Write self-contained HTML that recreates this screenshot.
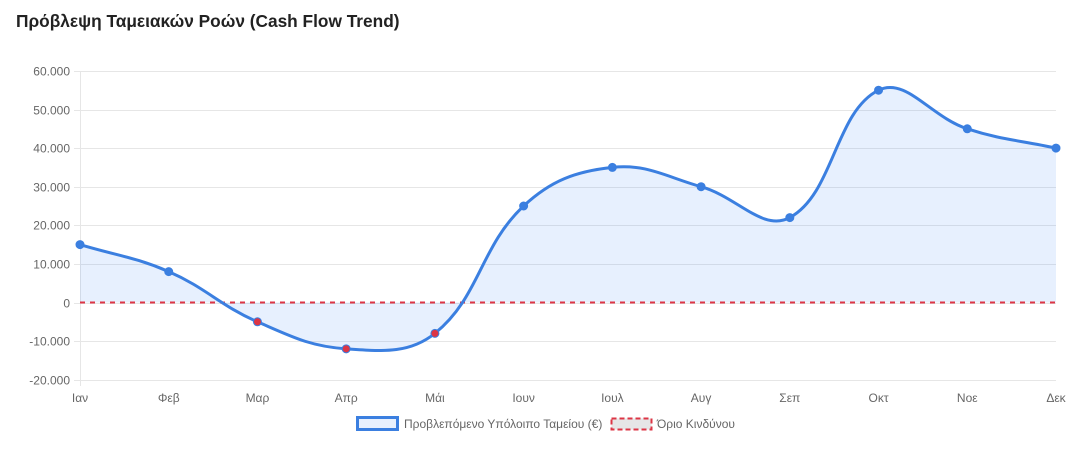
<!DOCTYPE html>
<html><head><meta charset="utf-8"><style>
body{margin:0;background:#fff;width:1092px;height:448px;overflow:hidden;font-family:"Liberation Sans",sans-serif}
</style></head><body>
<svg id="s" width="1092" height="448" xmlns="http://www.w3.org/2000/svg" font-family="Liberation Sans, sans-serif">
<text x="16" y="27" font-size="17.3" font-weight="bold" fill="#222">Πρόβλεψη Ταμειακών Ροών (Cash Flow Trend)</text>
<g id="grid"></g>
<path id="fill" fill="rgba(59,130,246,0.12)" stroke="none"/>
<line x1="80" x2="1056" y1="302.5" y2="302.5" stroke="#dc3545" stroke-width="2" stroke-dasharray="5,5"/>
<path id="line" fill="none" stroke="#3b7fe0" stroke-width="3"/>
<g id="pts"></g>
<rect x="357.5" y="417.5" width="40" height="12" fill="#e8f0fd" stroke="#3b7fe0" stroke-width="3"/>
<text x="404" y="428" font-size="12" fill="#666">Προβλεπόμενο Υπόλοιπο Ταμείου (€)</text>
<rect x="611.5" y="418.5" width="40" height="11" fill="#e6e6e6" stroke="#dc3545" stroke-width="2" stroke-dasharray="5,3"/>
<text x="657" y="428" font-size="12" fill="#666">Όριο Κινδύνου</text>
</svg>
<script>
var ns="http://www.w3.org/2000/svg";
function el(t,a,p){var e=document.createElementNS(ns,t);for(var k in a)e.setAttribute(k,a[k]);if(p)document.getElementById(p).appendChild(e);return e;}
function Y(v){return 302.5-v*38.6/10000;}
var labs=["Ιαν","Φεβ","Μαρ","Απρ","Μάι","Ιουν","Ιουλ","Αυγ","Σεπ","Οκτ","Νοε","Δεκ"];
var data=[15000,8000,-5000,-12000,-8000,25000,35000,30000,22000,55000,45000,40000];
for(var v=-20000;v<=60000;v+=10000){var y=Math.round(Y(v))+0.5;
el("line",{x1:80,x2:1056,y1:y,y2:y,stroke:"#e6e6e6"},"grid");
el("line",{x1:74,x2:80,y1:y,y2:y,stroke:"#e6e6e6"},"grid");
var t=el("text",{x:70,y:y+4,"font-size":12,fill:"#666","text-anchor":"end"},"grid");
t.textContent=v==0?"0":(v/1000)+".000";}
el("line",{x1:80.5,x2:80.5,y1:71,y2:386,stroke:"#e6e6e6"},"grid");
var P=data.map(function(d,i){return {x:80+i*976/11,y:Y(d)};});
P.forEach(function(p,i){var t=el("text",{x:p.x,y:402,"font-size":12,fill:"#666","text-anchor":"middle"},"grid");t.textContent=labs[i];});
var T=0.4,cp=[];
for(var i=0;i<P.length;i++){var pr=P[i-1]||P[i],c=P[i],nx=P[i+1]||P[i];
var d01=Math.hypot(c.x-pr.x,c.y-pr.y),d12=Math.hypot(nx.x-c.x,nx.y-c.y);
var s01=d01/(d01+d12)||0,s12=d12/(d01+d12)||0,fa=T*s01,fb=T*s12;
cp.push({px:c.x-fa*(nx.x-pr.x),py:c.y-fa*(nx.y-pr.y),nx:c.x+fb*(nx.x-pr.x),ny:c.y+fb*(nx.y-pr.y)});}
var d="M"+P[0].x+","+P[0].y;
for(var i=1;i<P.length;i++)d+=" C"+cp[i-1].nx+","+cp[i-1].ny+" "+cp[i].px+","+cp[i].py+" "+P[i].x+","+P[i].y;
document.getElementById("line").setAttribute("d",d);
document.getElementById("fill").setAttribute("d",d+" L"+P[11].x+","+Y(0)+" L"+P[0].x+","+Y(0)+"Z");
P.forEach(function(p,i){el("circle",{cx:p.x,cy:p.y,r:4,fill:data[i]<0?"#dc3545":"#3b7fe0",stroke:"#3b7fe0","stroke-width":1},"pts");});
</script>
</body></html>
